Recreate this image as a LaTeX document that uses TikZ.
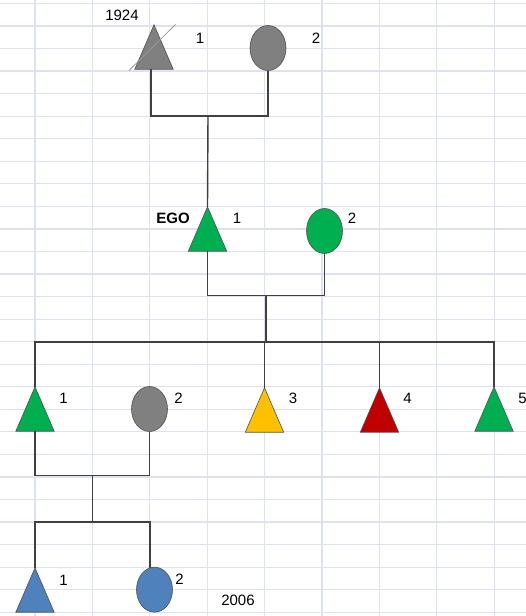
\documentclass[tikz,border=0pt]{standalone}
\usepackage{fontspec}
\setmainfont{Liberation Sans}
\usetikzlibrary{shapes.geometric}
\definecolor{gridc}{RGB}{222,226,240}
\definecolor{linec}{RGB}{64,64,64}
\definecolor{edgec}{RGB}{80,80,80}
\definecolor{grayf}{RGB}{128,128,128}
\definecolor{greenf}{RGB}{0,176,80}
\definecolor{yellowf}{RGB}{255,192,0}
\definecolor{redf}{RGB}{192,0,0}
\definecolor{bluef}{RGB}{79,129,189}
\tikzset{
  mbox/.style={rectangle, minimum width=38pt, minimum height=44pt, inner sep=0pt},
  maleshape/.style={draw=edgec, line width=0.6pt},
  female/.style={ellipse, minimum width=36pt, minimum height=45pt, inner sep=0pt, draw=edgec, line width=0.6pt},
  lbl/.style={font=\fontsize{15}{15}\selectfont, inner sep=0pt},
  conn/.style={draw=linec, line width=1.4pt},
  gridline/.style={draw=gridc, line width=1.2pt}
}
\newcommand{\malenode}[3]{%
  \node[mbox] (#1) at (#2) {};
  \filldraw[maleshape, fill=#3] (#1.south west) -- (#1.north) -- (#1.south east) -- cycle;}
\begin{document}
\begin{tikzpicture}[x=1pt,y=-1pt]
\useasboundingbox (0,0) rectangle (526,616);
\fill[white] (0,0) rectangle (526,616);
% grid
\foreach \i in {0,...,8} \draw[gridline] (35+57.4*\i,0) -- (35+57.4*\i,616);
\foreach \j in {0,...,27} \draw[gridline] (0,3.4+22.55*\j) -- (526,3.4+22.55*\j);
% generation 1
\malenode{g1m}{154,47}{grayf}
\draw[grayf!80!white, line width=0.8pt] (129,70.5) -- (175.5,24.5);
\node[female, fill=grayf] (g1f) at (268,48) {};
\node[lbl] (y1924) at (122,15) {1924};
\node[lbl] (l1a) at (200,38) {1};
\node[lbl] (l1b) at (316,38) {2};
% generation 2
\malenode{ego}{207.5,229}{greenf}
\node[female, fill=greenf] (egow) at (324.5,231) {};
\node[lbl, font=\fontsize{15}{15}\selectfont\bfseries] (egol) at (173,218) {EGO};
\node[lbl] (l2a) at (237,218) {1};
\node[lbl] (l2b) at (352,218) {2};
% generation 3
\malenode{c1}{35,409}{greenf}
\node[female, fill=grayf] (c1w) at (149.5,409) {};
\malenode{c3}{264.5,410}{yellowf}
\malenode{c4}{379.5,410}{redf}
\malenode{c5}{494,409}{greenf}
\node[lbl] (l3a) at (63.5,398) {1};
\node[lbl] (l3b) at (178.5,398) {2};
\node[lbl] (l3c) at (293,398) {3};
\node[lbl] (l3d) at (407.5,398) {4};
\node[lbl] (l3e) at (522.5,398) {5};
% generation 4
\malenode{d1}{35,590}{bluef}
\node[female, fill=bluef] (d2) at (154.5,589.7) {};
\node[lbl] (l4a) at (63.5,580) {1};
\node[lbl] (l4b) at (179.5,579) {2};
\node[lbl] (y2006) at (238,600) {2006};
% connectors
\coordinate (b1) at (208,116);
\coordinate (b2) at (266,295.7);
\coordinate (b3) at (266,342);
\coordinate (b4) at (92.3,475.7);
\coordinate (b5) at (92.3,522);
\coordinate (g1ms) at (151,69);
\coordinate (d2n) at (150,567.7);
\draw[conn] (g1ms) |- (b1) -| (g1f.south);
\draw[conn] (b1) -- (ego.north);
\draw[conn] (ego.south) |- (b2) -| (egow.south);
\draw[conn] (b2) -- (b3);
\draw[conn] (c1.north) |- (b3) -| (c5.north);
\draw[conn] (c3.north |- b3) -- (c3.north);
\draw[conn] (c4.north |- b3) -- (c4.north);
\draw[conn] (c1.south) |- (b4) -| (c1w.south);
\draw[conn] (b4) -- (b5);
\draw[conn] (d1.north) |- (b5) -| (d2n);
\end{tikzpicture}
\end{document}
